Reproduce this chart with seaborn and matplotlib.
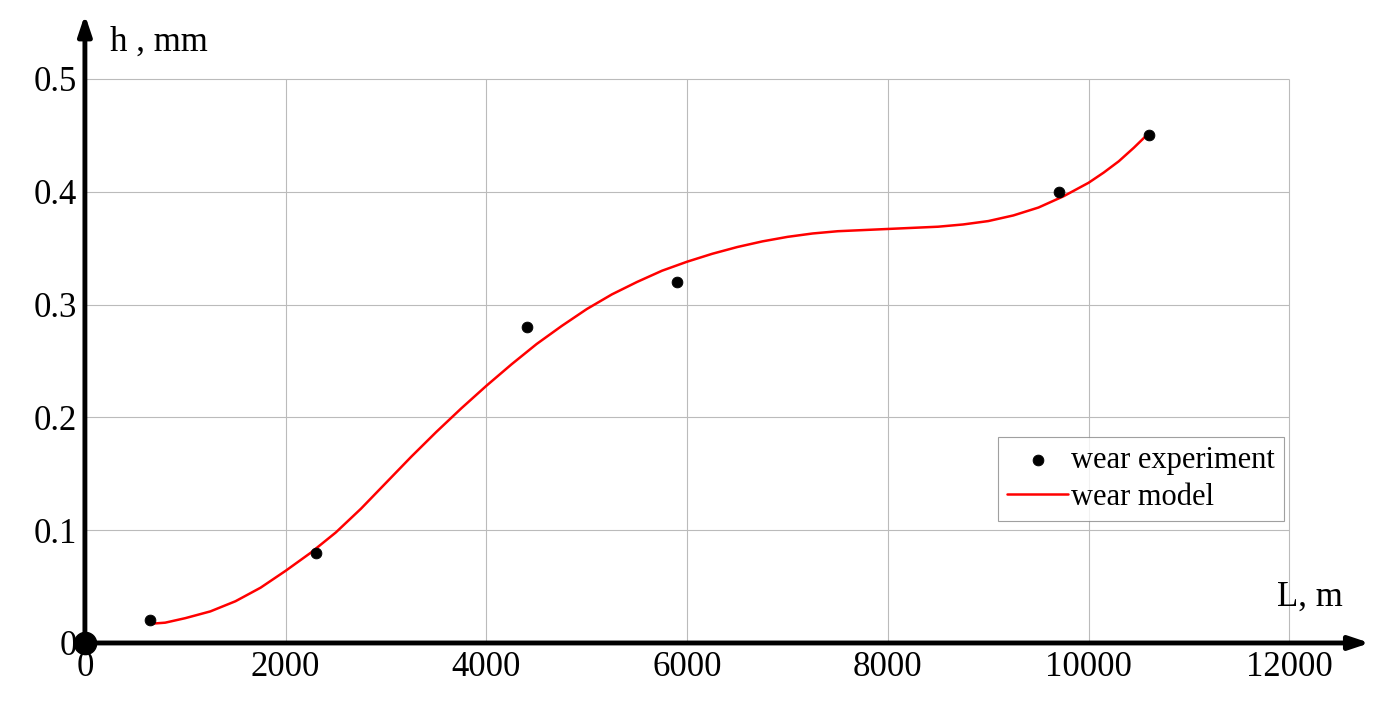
import matplotlib
matplotlib.use("Agg")
import matplotlib.pyplot as plt
import seaborn as sns

exp_L = [650, 2300, 4400, 5900, 9700, 10600]
exp_h = [0.02, 0.08, 0.28, 0.32, 0.40, 0.45]
model_L = [650, 800, 1000, 1250, 1500, 1750, 2000, 2250, 2500, 2750, 3000, 3250, 3500, 3750,
           4000, 4250, 4500, 4750, 5000, 5250, 5500, 5750, 6000, 6250, 6500, 6750, 7000,
           7250, 7500, 7750, 8000, 8250, 8500, 8750, 9000, 9250, 9500, 9750, 10000,
           10150, 10300, 10450, 10600]
model_h = [0.017, 0.018, 0.022, 0.028, 0.037, 0.049, 0.064, 0.080, 0.098, 0.119, 0.142, 0.165,
           0.187, 0.208, 0.228, 0.247, 0.265, 0.281, 0.296, 0.309, 0.320, 0.330, 0.338, 0.345,
           0.351, 0.356, 0.360, 0.363, 0.365, 0.366, 0.367, 0.368, 0.369, 0.371, 0.374, 0.379,
           0.386, 0.396, 0.408, 0.417, 0.427, 0.439, 0.452]
xticks = [0, 2000, 4000, 6000, 8000, 10000, 12000]
yticks = [0, 0.1, 0.2, 0.3, 0.4, 0.5]

sns.set_style("white")
plt.rcParams['font.family'] = ['Liberation Serif', 'DejaVu Serif']
plt.rcParams['text.color'] = 'black'

fig = plt.figure(figsize=(13.92, 7.1), dpi=100)
ax = fig.add_axes([0.061, 0.0944, 0.923, 0.885])
ax.set_xlim(0, 12800)
ax.set_ylim(0, 0.557)
for s in ax.spines.values():
    s.set_visible(False)

ax.hlines(yticks[1:], 0, 12000, color='#bbbbbb', lw=0.8, zorder=0)
ax.vlines(xticks[1:], 0, 0.5, color='#bbbbbb', lw=0.8, zorder=0)

sns.scatterplot(x=exp_L, y=exp_h, ax=ax, color='black', s=60, edgecolor='black',
                label='wear experiment', zorder=3)
sns.lineplot(x=model_L, y=model_h, ax=ax, color='red', lw=1.8, label='wear model',
             zorder=2, sort=True)

ap = dict(arrowstyle='-|>,head_length=1.2,head_width=0.4', color='black', lw=3.5, shrinkA=0, shrinkB=0)
ax.annotate('', xy=(12800, 0), xytext=(0, 0), annotation_clip=False, arrowprops=ap)
ax.annotate('', xy=(0, 0.557), xytext=(0, 0), annotation_clip=False, arrowprops=ap)
ax.plot([0], [0], 'o', color='black', ms=16, clip_on=False, zorder=5)

ax.set_xticks(xticks)
ax.set_yticks(yticks)
ax.set_xticklabels([str(t) for t in xticks])
ax.set_yticklabels(['0', '0.1', '0.2', '0.3', '0.4', '0.5'])
ax.tick_params(labelsize=25, length=0, pad=6, labelcolor='black')
ax.text(11880, 0.033, 'L, m', fontsize=25, ha='left')
ax.text(250, 0.525, 'h , mm', fontsize=25, ha='left')

leg = ax.legend(loc='lower right', bbox_to_anchor=(11950, 0.108), bbox_transform=ax.transData,
                fontsize=22, frameon=True, fancybox=False, edgecolor='#888888',
                borderpad=0.3, handletextpad=0.1, handlelength=2.0, labelspacing=0.25,
                borderaxespad=0)
leg.get_frame().set_linewidth(0.8)

fig.savefig('out.png', dpi=100)
